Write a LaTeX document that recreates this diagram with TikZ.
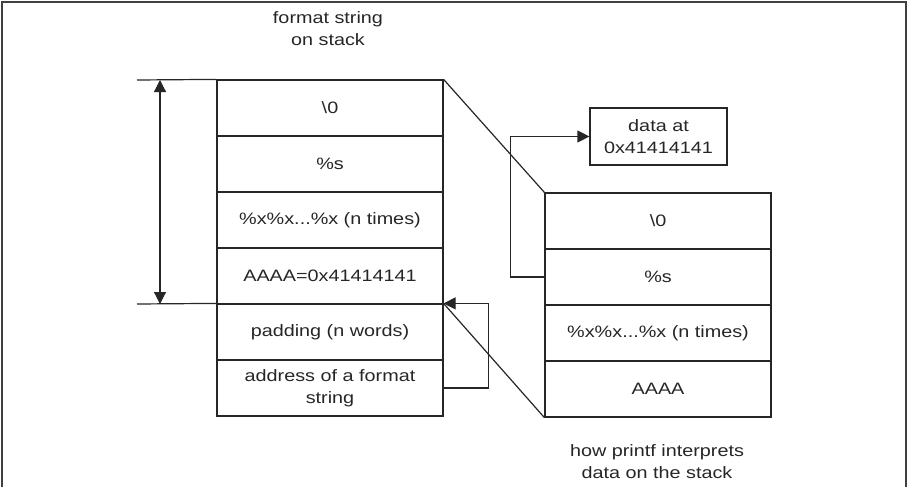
\documentclass[tikz,border=0pt]{standalone}
\usepackage{fontspec}
\setmainfont[FakeStretch=1.2]{Liberation Sans}
\usetikzlibrary{arrows.meta}
\begin{document}
\begin{tikzpicture}[x=1pt,y=-1pt,
  cell/.style={draw=black!85,line width=1.2pt,minimum width=226pt,minimum height=56pt,inner sep=0pt,align=center,text=black!85,font=\fontsize{16.5}{22}\selectfont},
  lbl/.style={align=center,text=black!85,font=\fontsize{16.5}{22}\selectfont},
  ln/.style={draw=black!85,line width=1.2pt},
  tip/.style={-{Triangle[width=12pt,length=12pt]}},
  dtip/.style={{Triangle[width=12pt,length=12pt]}-{Triangle[width=12pt,length=12pt]}}
]
\useasboundingbox (0,0) rectangle (909,487);
\draw[draw=black!75,line width=2pt] (2,487) -- (2,2) -- (906,2) -- (906,487);
% left stack
\node[cell] (L1) at (330,108) {\textbackslash 0};
\node[cell] (L2) at (330,164) {\%s};
\node[cell] (L3) at (330,220) {\%x\%x...\%x (n times)};
\node[cell] (L4) at (330,276) {AAAA=0x41414141};
\node[cell] (L5) at (330,332) {padding (n words)};
\node[cell] (L6) at (330,388) {address of a format\\string};
% right stack
\node[cell] (R1) at (658,221) {\textbackslash 0};
\node[cell] (R2) at (658,277) {\%s};
\node[cell] (R3) at (658,333) {\%x\%x...\%x (n times)};
\node[cell] (R4) at (658,389) {AAAA};
% data box
\node[cell,minimum width=137pt,minimum height=57pt] (D) at (658.5,136.5) {data at\\0x41414141};
% labels
\node[lbl] (T1) at (328,29) {format string\\on stack};
\node[lbl] (T2) at (657,462) {how printf interprets\\data on the stack};
% extent lines
\coordinate (a1) at (137,80);
\coordinate (a2) at (137,304);
\draw[ln] (a1) -- (L1.north west);
\draw[ln] (a2) -- (L5.north west);
\coordinate (b1) at (160,80);
\coordinate (b2) at (160,304);
\draw[ln,dtip] (b1) -- (b2);
% diagonals
\draw[ln] (L1.north east) -- (R1.north west);
\draw[ln] (L5.north east) -- (R4.south west);
% arrows
\draw[ln,tip] (R2.west) -- ++(-34,0) |- (D.west);
\draw[ln,tip] (L6.east) -- ++(45,0) |- (L5.north east);
\end{tikzpicture}
\end{document}
